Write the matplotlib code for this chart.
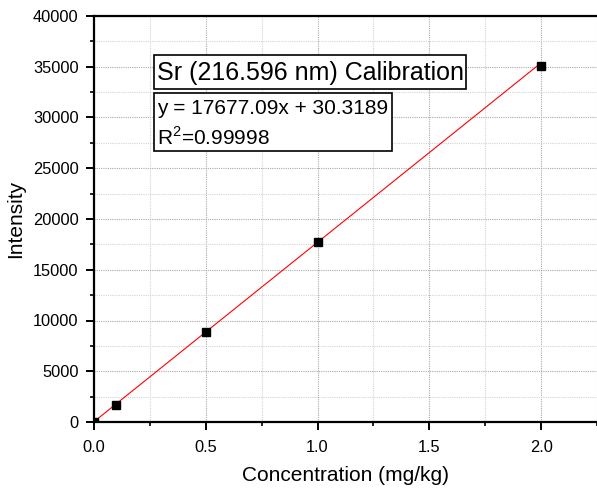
import matplotlib.pyplot as plt
from matplotlib.patches import Rectangle
from matplotlib.ticker import MultipleLocator

plt.rcParams["font.family"] = ["Liberation Sans", "DejaVu Sans"]
plt.rcParams["mathtext.fontset"] = "custom"
plt.rcParams["mathtext.rm"] = "Liberation Sans"

# calibration standards
conc = [0.0, 0.1, 0.5, 1.0, 2.0]
intensity = [0, 1680, 8870, 17750, 35080]

# fit parameters
slope = 17677.09
intercept = 30.3189
fit_x = [0.0, 2.0]

W, H = 597, 488
fig = plt.figure(figsize=(W / 100, H / 100), dpi=100)
ax = fig.add_axes([94 / W, 1 - 422 / H, 1 - 94 / W, (422 - 16) / H])

fit_y = [slope * x + intercept for x in fit_x]
ax.plot(fit_x, fit_y, color="red", lw=0.8, zorder=3)
ax.plot(conc, intensity, "s", color="black", markersize=6.2, zorder=4)

ax.set_xlim(0, 2.25)
ax.set_ylim(0, 40000)
ax.xaxis.set_major_locator(MultipleLocator(0.5))
ax.xaxis.set_minor_locator(MultipleLocator(0.25))
ax.yaxis.set_major_locator(MultipleLocator(5000))
ax.yaxis.set_minor_locator(MultipleLocator(2500))
ax.xaxis.set_major_formatter(plt.FormatStrFormatter("%.1f"))

ax.grid(True, which="major", color="#aaaaaa", ls=(0, (1, 1)), lw=0.8)
ax.grid(True, which="minor", color="#d4d4d4", ls=(0, (1, 1)), lw=0.8)
ax.set_axisbelow(True)

ax.spines["right"].set_visible(False)
for s in ["left", "bottom", "top"]:
    ax.spines[s].set_linewidth(1.6)
ax.tick_params(which="major", direction="out", length=6, width=1.4, labelsize=11.8)
ax.tick_params(which="minor", direction="out", length=3, width=1.2)
ax.tick_params(axis="x", which="major", pad=7)
ax.tick_params(axis="y", which="major", pad=5)
ax.tick_params(top=False, right=False)

ax.set_xlabel("Concentration (mg/kg)", fontsize=15, labelpad=8)
ax.set_ylabel("Intensity", fontsize=15, labelpad=6)


def box(x0, y0, x1, y1):
    # pixel box, measured from the top left
    fig.add_artist(Rectangle((x0 / W, 1 - y1 / H), (x1 - x0) / W, (y1 - y0) / H,
                             transform=fig.transFigure, fc="white", ec="black", lw=1.2, zorder=5))


box(154, 55, 466, 89)
box(154, 93, 392, 151)
fig.text(157 / W, 1 - 73 / H, "Sr (216.596 nm) Calibration", fontsize=18,
         va="center", ha="left", zorder=6)
fig.text(157 / W, 1 - 108 / H, "y = 17677.09x + 30.3189", fontsize=15,
         va="center", ha="left", zorder=6)
fig.text(157 / W, 1 - 137 / H, "R$^2$=0.99998", fontsize=15,
         va="center", ha="left", zorder=6)

plt.savefig("out.png", dpi=100)
